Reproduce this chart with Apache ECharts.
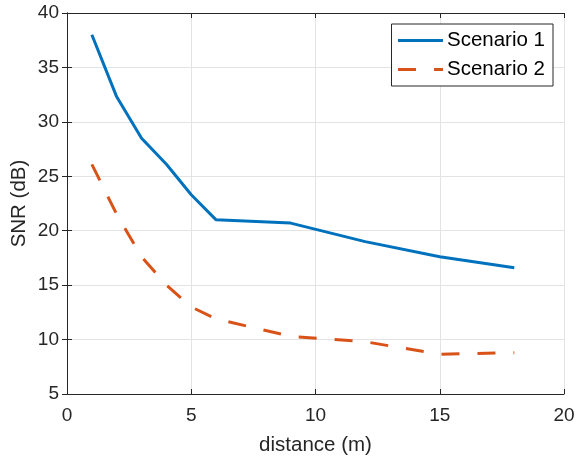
<!DOCTYPE html>
<html>
<head>
<meta charset="utf-8">
<script src="https://cdn.jsdelivr.net/npm/echarts@6/dist/echarts.min.js"></script>
<style>
  html, body { margin: 0; padding: 0; background: #fff; }
  #chart { width: 577px; height: 460px; }
</style>
</head>
<body>
<div id="chart"></div>
<script>
// Distance samples (m) and measured SNR (dB) for the two scenarios
const distance = [1, 2, 3, 4, 5, 6, 9, 12, 15, 18];
const snrScenario1 = [38.0, 32.3, 28.5, 26.1, 23.3, 21.0, 20.7, 19.0, 17.6, 16.6];
const snrScenario2 = [26.1, 21.5, 17.6, 15.0, 13.0, 11.9, 10.3, 9.8, 8.65, 8.8];
const seriesNames = ['Scenario 1', 'Scenario 2'];
const xTicks = { min: 0, max: 20, step: 5 };
const yTicks = { min: 5, max: 40, step: 5 };

const FONT = '"Liberation Sans", Arial, Helvetica, sans-serif';
const AXIS_COLOR = '#262626';
const GRID_COLOR = '#e3e3e3';

const pairs = (xs, ys) => xs.map((x, i) => [x, ys[i]]);

const baseAxis = {
  type: 'value',
  axisLine: { show: true, lineStyle: { color: AXIS_COLOR, width: 1 } },
  axisTick: { show: true, inside: true, length: 5, lineStyle: { color: AXIS_COLOR } },
  splitLine: { show: false },
  axisLabel: { show: false }
};

const chart = echarts.init(document.getElementById('chart'), null, { renderer: 'canvas' });
chart.setOption({
  animation: false,
  backgroundColor: '#ffffff',
  grid: {
    left: 67, right: 13, top: 13, bottom: 66,
    containLabel: false,
    outerBoundsMode: 'none'
  },
  legend: {
    orient: 'vertical',
    right: 24,
    top: 24,
    data: seriesNames,
    itemWidth: 45,
    itemHeight: 12,
    itemGap: 8,
    padding: [6, 8, 6, 5],
    borderColor: AXIS_COLOR,
    borderWidth: 1,
    backgroundColor: '#ffffff',
    itemStyle: { opacity: 0 },
    lineStyle: { width: 3 },
    textStyle: { fontFamily: FONT, fontSize: 20.5, color: '#000', padding: [0, 0, 0, -1] }
  },
  xAxis: [
    Object.assign({}, baseAxis, {
      min: xTicks.min, max: xTicks.max, interval: xTicks.step,
      position: 'bottom',
      name: 'distance (m)',
      nameLocation: 'middle',
      nameGap: 41,
      nameMoveOverlap: false,
      nameTextStyle: { fontFamily: FONT, fontSize: 20.5, color: AXIS_COLOR },
      splitLine: { show: true, lineStyle: { color: GRID_COLOR, width: 1 } },
      axisLabel: { show: true, fontFamily: FONT, fontSize: 19, color: AXIS_COLOR, margin: 12 }
    }),
    Object.assign({}, baseAxis, {
      min: xTicks.min, max: xTicks.max, interval: xTicks.step,
      position: 'top'
    })
  ],
  yAxis: [
    Object.assign({}, baseAxis, {
      min: yTicks.min, max: yTicks.max, interval: yTicks.step,
      position: 'left',
      name: 'SNR (dB)',
      nameLocation: 'middle',
      nameGap: 37,
      nameMoveOverlap: false,
      nameTextStyle: { fontFamily: FONT, fontSize: 20.5, color: AXIS_COLOR },
      splitLine: { show: true, lineStyle: { color: GRID_COLOR, width: 1 } },
      axisLabel: { show: true, fontFamily: FONT, fontSize: 19, color: AXIS_COLOR, margin: 8 }
    }),
    Object.assign({}, baseAxis, {
      min: yTicks.min, max: yTicks.max, interval: yTicks.step,
      position: 'right'
    })
  ],
  series: [
    {
      name: seriesNames[0],
      type: 'line',
      data: pairs(distance, snrScenario1),
      symbol: 'none',
      color: '#0072BD',
      lineStyle: { width: 3, color: '#0072BD' }
    },
    {
      name: seriesNames[1],
      type: 'line',
      data: pairs(distance, snrScenario2),
      symbol: 'none',
      color: '#D95319',
      lineStyle: { width: 3, color: '#D95319', type: [18, 18] }
    }
  ]
});
</script>
</body>
</html>
